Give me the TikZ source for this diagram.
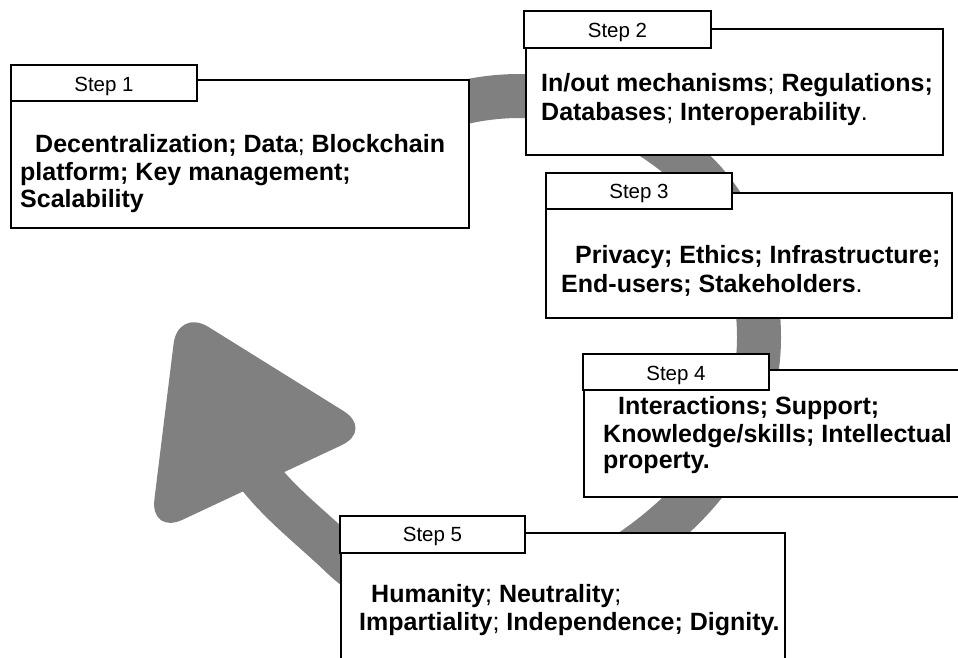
\documentclass[tikz,border=0pt]{standalone}
\usepackage{fontspec}
\setmainfont{Liberation Sans}
\definecolor{arrowgray}{RGB}{128,128,128}
\newcommand\rg[1]{{\mdseries #1}}
\tikzset{
  panel/.style={draw=black, line width=1.5pt, fill=white, inner sep=0pt, outer sep=0pt, anchor=north west},
  steplabel/.style={font=\fontsize{20.5}{24}\selectfont, anchor=base, inner sep=0pt},
  bodytext/.style={font=\fontsize{25}{28}\selectfont\bfseries, anchor=base west, inner sep=0pt},
  band/.style={draw=arrowgray, line width=44pt},
  head/.style={fill=arrowgray, rounded corners=36pt}
}
\begin{document}
\begin{tikzpicture}[x=1pt,y=-1pt]
\useasboundingbox (0,0) rectangle (958,658);
\clip (0,0) rectangle (958,658);
\fill[white] (0,0) rectangle (958,658);
% circular band
\coordinate (k0) at (400,125.7);
\coordinate (k1) at (520,96);
\coordinate (k2) at (688,165);
\coordinate (k3) at (759,338);
\coordinate (k4) at (676,515);
\coordinate (k6) at (341,556);
\coordinate (k7) at (250,464);
\draw[band] (k0) .. controls (437,106.2) and (478.2,96) .. (k1)
  .. controls (582.4,96) and (641.2,123.8) .. (k2)
  .. controls (737,208.1) and (759,272.7) .. (k3)
  .. controls (759,405.9) and (725.6,468.8) .. (k4)
  .. controls (580.7,603.9) and (435.1,646.2) .. (k6)
  .. controls (310,526.2) and (274,499.6) .. (k7);
% arrow head
\coordinate (ht) at (178,308);
\coordinate (hr) at (374,430);
\coordinate (hl) at (150,535);
\fill[head] (ht) -- (hr) -- (hl) -- cycle;
% step 1
\node[panel, minimum width=458pt, minimum height=148pt] (b1) at (11,80) {};
\node[panel, minimum width=186pt, minimum height=36pt] (t1) at (11,65) {};
\node[steplabel] (l1) at (104,91.7) {Step 1};
\node[bodytext] (s1a) at (35,152) {Decentralization; Data\rg{;} Blockchain};
\node[bodytext] (s1b) at (20,180) {platform; Key management;};
\node[bodytext] (s1c) at (20,207) {Scalability};
% step 2
\node[panel, minimum width=417pt, minimum height=126pt] (b2) at (526,29) {};
\node[panel, minimum width=187pt, minimum height=37pt] (t2) at (524,11) {};
\node[steplabel] (l2) at (617.5,37.3) {Step 2};
\node[bodytext] (s2a) at (541,91.5) {In/out mechanisms\rg{;} Regulations;};
\node[bodytext] (s2b) at (541,120.5) {Databases\rg{;} Interoperability\rg{.}};
% step 3
\node[panel, minimum width=406pt, minimum height=125pt] (b3) at (546,193) {};
\node[panel, minimum width=186pt, minimum height=36pt] (t3) at (546,173) {};
\node[steplabel] (l3) at (639,198.5) {Step 3};
\node[bodytext] (s3a) at (575,263) {Privacy; Ethics; Infrastructure;};
\node[bodytext] (s3b) at (561,292) {End-users; Stakeholders\rg{.}};
% step 4
\node[panel, minimum width=400pt, minimum height=127pt] (b4) at (584,370) {};
\node[panel, minimum width=186pt, minimum height=36pt] (t4) at (583,354) {};
\node[steplabel] (l4) at (676,380.7) {Step 4};
\node[bodytext] (s4a) at (618,414) {Interactions; Support;};
\node[bodytext] (s4b) at (603,442) {Knowledge/skills; Intellectual};
\node[bodytext] (s4c) at (603,468.5) {property.};
% step 5
\node[panel, minimum width=444pt, minimum height=150pt] (b5) at (341,533) {};
\node[panel, minimum width=185pt, minimum height=37pt] (t5) at (340,516) {};
\node[steplabel] (l5) at (432.5,541.7) {Step 5};
\node[bodytext] (s5a) at (371,602) {Humanity\rg{;} Neutrality\rg{;}};
\node[bodytext] (s5b) at (359,630) {Impartiality\rg{;} Independence; Dignity.};
\end{tikzpicture}
\end{document}
